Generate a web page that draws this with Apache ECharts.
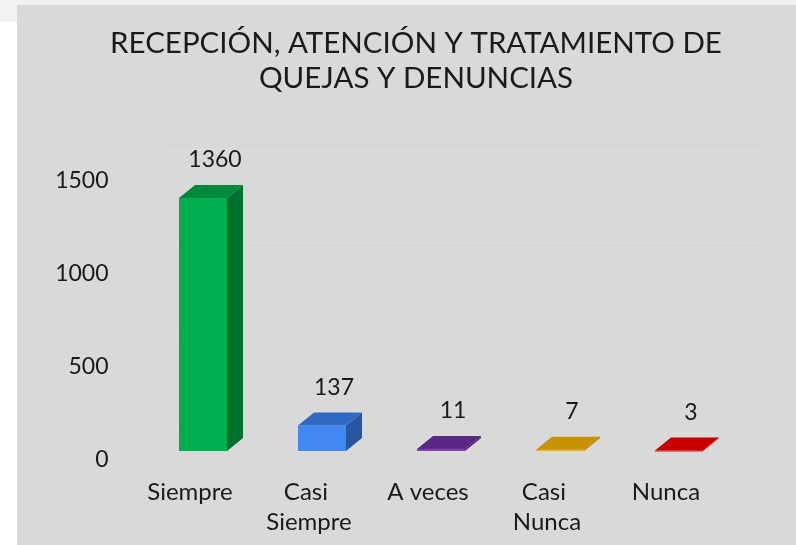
<!DOCTYPE html>
<html>
<head>
<meta charset="utf-8">
<script src="https://cdn.jsdelivr.net/npm/echarts@6/dist/echarts.min.js"></script>
<style>
  html, body { margin: 0; padding: 0; background: #ffffff; }
  #strip-top { position: absolute; left: 0; top: 0; width: 796px; height: 5px; background: #f2f2f2; }
  #strip-left { position: absolute; left: 0; top: 0; width: 17px; height: 22px; background: #f2f2f2; }
  #panel { position: absolute; left: 17px; top: 5px; width: 779px; height: 540px; background: #d9d9d9; }
  #chart { position: absolute; left: 0; top: 0; width: 796px; height: 545px; }
</style>
</head>
<body>
<div id="strip-top"></div>
<div id="strip-left"></div>
<div id="panel"></div>
<div id="chart"></div>
<script>
  // datos
  const categories = ['Siempre', 'Casi Siempre', 'A veces', 'Casi Nunca', 'Nunca']
  const values = [1360, 137, 11, 7, 3]
  const yTicks = [0, 500, 1000, 1500]

  // colores de cada barra (frente, tapa, lado)
  const palette = [
    { front: '#00b050', top: '#00883c', side: '#00702f' },
    { front: '#4287f2', top: '#2f69c2', side: '#2a55a0' },
    { front: '#8040b0', top: '#5a2784', side: '#4a1f6c' },
    { front: '#f0b400', top: '#c89300', side: '#a07600' },
    { front: '#e01010', top: '#c80000', side: '#a00000' }
  ]

  const FONT = 'Lato, "Open Sans", sans-serif'
  const TEXT = '#1a1a1a'
  const BAR_W = 48
  const SHIFT_X = 13, SHIFT_Y = -9   // frente de la barra respecto a la etiqueta
  const DX = 16, DY = -13            // profundidad de la caja
  const WALL_DX = 41, WALL_DY = -31  // pared del fondo

  const chart = echarts.init(document.getElementById('chart'))

  /**
   * lineas de la pared del fondo
   */
  const renderGrid = (params, api) => {
    const cs = params.coordSys
    const p = api.coord([0, api.value(1)])
    const x0 = cs.x
    const y0 = p[1]
    return {
      type: 'polyline',
      shape: { points: [[x0, y0], [x0 + WALL_DX, y0 + WALL_DY], [x0 + WALL_DX + cs.width, y0 + WALL_DY]] },
      style: { stroke: '#e0e0e0', lineWidth: 1, fill: null }
    }
  }

  /**
   * caja 3D de cada categoria
   */
  const renderBox = (params, api) => {
    const i = api.value(0)
    const v = api.value(1)
    const base = api.coord([i, 0])
    const top = api.coord([i, v])
    const cx = base[0] + SHIFT_X
    const x0 = cx - BAR_W / 2
    const x1 = cx + BAR_W / 2
    const yb = base[1] + SHIFT_Y
    const yt = top[1] + SHIFT_Y
    const c = palette[i]
    return {
      type: 'group',
      children: [
        {
          type: 'polygon',
          shape: { points: [[x1, yb], [x1 + DX, yb + DY], [x1 + DX, yt + DY], [x1, yt]] },
          style: { fill: c.side }
        },
        {
          type: 'rect',
          shape: { x: x0, y: yt, width: BAR_W, height: Math.max(yb - yt, 1) },
          style: { fill: c.front }
        },
        {
          type: 'polygon',
          shape: { points: [[x0, yt], [x1, yt], [x1 + DX, yt + DY], [x0 + DX, yt + DY]] },
          style: { fill: c.top }
        },
        {
          type: 'text',
          style: {
            text: String(v),
            x: cx + DX / 2 + 4,
            y: yt + DY - 25,
            align: 'center',
            verticalAlign: 'middle',
            font: '23px ' + FONT,
            fill: TEXT
          }
        }
      ]
    }
  }

  const option = {
    animation: false,
    title: {
      text: 'RECEPCIÓN, ATENCIÓN Y TRATAMIENTO DE\nQUEJAS Y DENUNCIAS',
      left: 411,
      top: 21,
      textAlign: 'center',
      textStyle: {
        fontFamily: FONT,
        fontSize: 29.5,
        fontWeight: 'normal',
        lineHeight: 35,
        color: TEXT
      }
    },
    grid: { left: 130.5, right: 70.5, top: 181, bottom: 85 },
    xAxis: {
      type: 'category',
      data: categories,
      axisLine: { show: false },
      axisTick: { show: false },
      axisLabel: {
        interval: 0,
        margin: 17,
        color: TEXT,
        fontFamily: FONT,
        fontSize: 24,
        lineHeight: 30,
        width: 100,
        overflow: 'break'
      }
    },
    yAxis: {
      type: 'value',
      min: yTicks[0],
      max: yTicks[yTicks.length - 1],
      interval: yTicks[1] - yTicks[0],
      splitLine: { show: false },
      axisLine: { show: false },
      axisTick: { show: false },
      axisLabel: {
        margin: 22,
        color: TEXT,
        fontFamily: FONT,
        fontSize: 23,
        formatter: v => String(v)
      }
    },
    series: [
      {
        type: 'custom',
        z: 1,
        silent: true,
        renderItem: renderGrid,
        data: yTicks.map(t => [0, t])
      },
      {
        type: 'custom',
        z: 2,
        renderItem: renderBox,
        data: values.map((v, i) => [i, v])
      }
    ]
  }
  chart.setOption(option)
</script>
</body>
</html>
